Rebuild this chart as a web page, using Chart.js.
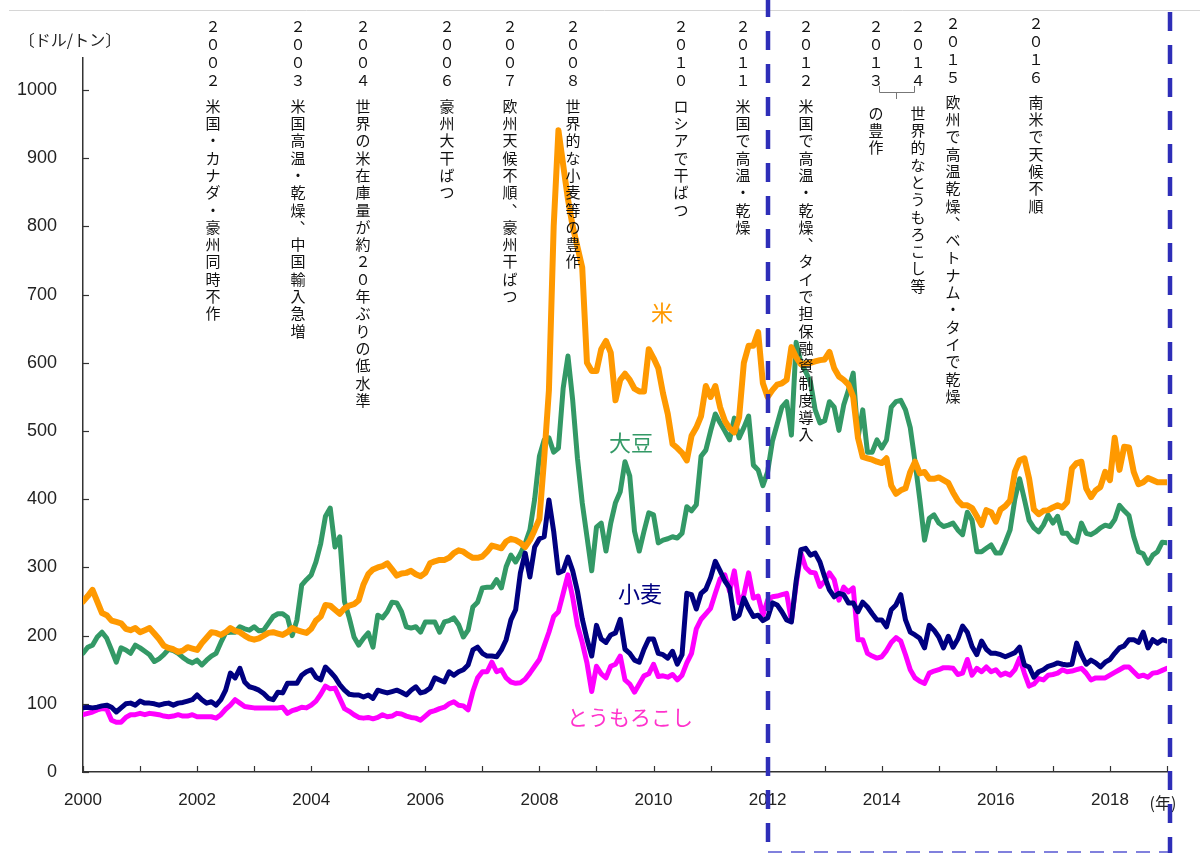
<!DOCTYPE html>
<html>
<head>
<meta charset="utf-8">
<script src="https://cdn.jsdelivr.net/npm/chart.js@4.4.1/dist/chart.umd.min.js"></script>
<style>
  html, body { margin: 0; padding: 0; background: #fff; }
  #wrap { width: 1200px; height: 853px; position: relative; }
</style>
</head>
<body>
<div id="wrap"><canvas id="priceChart"></canvas></div>
<script>
// 月次価格（ドル/トン）2000年1月〜2019年1月
var firstYear = 2000;
var lastYear = 2019;

var rice = [
  250, 258, 267, 250, 233, 230, 222, 220, 218, 210, 208, 211, // 2000
  205, 208, 211, 203, 195, 185, 182, 180, 176, 178, 183, 181, // 2001
  179, 189, 197, 205, 204, 201, 205, 211, 207, 205, 200, 196, // 2002
  194, 196, 200, 204, 205, 203, 201, 205, 211, 208, 206, 204, // 2003
  210, 222, 228, 245, 244, 238, 232, 240, 244, 246, 252, 275, // 2004
  290, 297, 300, 302, 306, 297, 288, 291, 292, 295, 290, 287, // 2005
  292, 306, 309, 311, 311, 314, 321, 325, 323, 318, 314, 314, // 2006
  316, 323, 332, 330, 328, 338, 342, 340, 336, 330, 340, 355, // 2007
  371, 460, 560, 800, 941, 890, 840, 800, 770, 740, 600, 588, // 2008
  588, 620, 632, 615, 545, 575, 584, 575, 562, 558, 558, 620, // 2009
  607, 592, 555, 525, 481, 475, 468, 457, 493, 505, 522, 566, // 2010
  550, 566, 535, 515, 504, 498, 520, 600, 625, 625, 645, 570, // 2011
  550, 560, 568, 570, 575, 623, 608, 598, 599, 600, 602, 604, // 2012
  605, 616, 592, 580, 575, 568, 550, 490, 462, 460, 458, 455, // 2013
  453, 460, 420, 408, 413, 416, 440, 455, 438, 440, 430, 430, // 2014
  432, 428, 424, 410, 398, 391, 391, 387, 375, 362, 384, 381, // 2015
  367, 385, 390, 398, 440, 457, 460, 430, 385, 378, 383, 384, // 2016
  388, 391, 388, 396, 445, 453, 455, 416, 403, 413, 418, 440, // 2017
  428, 490, 443, 477, 476, 440, 422, 425, 431, 428, 425, 425, // 2018
  425                                                         // 2019
];

var soybean = [
  174, 183, 186, 198, 205, 196, 179, 161, 182, 179, 174, 186,
  182, 177, 172, 162, 166, 172, 180, 178, 174, 168, 163, 160,
  164, 157, 164, 170, 174, 190, 204, 205, 205, 213, 210, 208,
  213, 207, 208, 218, 228, 232, 232, 227, 200, 223, 274, 282,
  289, 308, 335, 375, 387, 330, 345, 250, 226, 198, 186, 196,
  204, 183, 230, 226, 235, 249, 248, 235, 213, 211, 213, 205,
  220, 220, 220, 205, 220, 222, 226, 216, 198, 208, 242, 249,
  270, 271, 271, 282, 270, 301, 318, 308, 320, 335, 355, 400,
  463, 487, 490, 469, 475, 563, 610, 545, 460, 395, 345, 295,
  359, 365, 324, 365, 395, 411, 455, 434, 353, 324, 353, 380,
  377, 336, 340, 342, 345, 343, 350, 389, 383, 392, 463, 472,
  500, 525, 512, 500, 487, 519, 490, 505, 522, 450, 443, 420,
  440, 485, 510, 535, 543, 494, 630, 600, 587, 572, 531, 512,
  515, 543, 535, 501, 538, 560, 585, 490, 531, 469, 469, 487,
  475, 487, 535, 543, 545, 531, 505, 455, 400, 340, 372, 377,
  365, 360, 362, 365, 355, 348, 381, 369, 323, 323, 328, 333,
  321, 321, 337, 355, 400, 430, 400, 369, 358, 352, 362, 377,
  365, 375, 350, 350, 340, 337, 365, 350, 348, 352, 358, 362,
  360, 370, 391, 383, 376, 345, 323, 320, 306, 318, 323, 337,
  336
];

var wheat = [
  94, 95, 94, 95, 97, 98, 95, 88, 94, 100, 101, 98,
  104, 101, 101, 100, 98, 100, 101, 98, 101, 102, 104, 106,
  113, 106, 101, 103, 98, 106, 120, 145, 138, 152, 132, 125,
  123, 120, 115, 108, 106, 117, 116, 130, 130, 130, 142, 147,
  150, 139, 135, 154, 147, 139, 128, 120, 114, 113, 113, 110,
  113, 108, 120, 118, 116, 118, 120, 117, 113, 120, 125, 116,
  118, 123, 138, 135, 132, 147, 142, 147, 150, 157, 179, 183,
  174, 170, 170, 169, 179, 194, 223, 238, 292, 321, 286, 330,
  342, 345, 399, 353, 292, 295, 315, 295, 265, 225, 195, 170,
  215, 195, 190, 201, 204, 224, 180, 174, 164, 161, 180, 195,
  195, 174, 172, 167, 177, 158, 172, 262, 260, 239, 262, 268,
  285, 309, 295, 280, 270, 225, 230, 255, 240, 228, 230, 222,
  226, 248, 245, 235, 223, 220, 280, 326, 328, 318, 321, 308,
  286, 267, 257, 262, 260, 248, 248, 235, 249, 242, 232, 223,
  223, 213, 238, 245, 260, 223, 205, 201, 196, 182, 215, 208,
  198, 182, 199, 183, 195, 214, 205, 184, 172, 192, 180, 174,
  174, 172, 169, 172, 175, 183, 157, 154, 139, 147, 150, 155,
  157, 160, 158, 157, 158, 189, 172, 158, 164, 160, 154, 161,
  165, 174, 182, 185, 194, 194, 190, 205, 182, 194, 189, 194,
  192
];

var corn = [
  84, 86, 88, 91, 93, 92, 76, 73, 73, 80, 84, 84,
  86, 84, 86, 85, 84, 82, 81, 82, 84, 82, 82, 84,
  81, 81, 81, 81, 79, 84, 92, 98, 106, 101, 96, 95,
  94, 94, 94, 94, 94, 94, 95, 86, 90, 92, 95, 94,
  98, 104, 114, 126, 122, 123, 108, 93, 89, 84, 80, 79,
  80, 78, 80, 84, 81, 82, 86, 85, 82, 80, 79, 76,
  82, 88, 90, 93, 95, 100, 103, 98, 97, 91, 118, 138,
  147, 147, 161, 147, 150, 138, 132, 130, 131, 136, 145, 155,
  165, 185, 205, 228, 235, 262, 289, 256, 215, 190, 160, 118,
  155, 144, 138, 155, 158, 170, 135, 129, 117, 129, 141, 144,
  158, 140, 141, 139, 143, 135, 142, 160, 174, 210, 224, 232,
  240, 262, 283, 289, 265, 295, 248, 260, 292, 255, 258, 230,
  252, 257, 258, 260, 262, 222, 275, 321, 300, 293, 292, 272,
  280, 292, 282, 252, 271, 264, 270, 194, 194, 174, 170, 167,
  169, 178, 190, 197, 192, 172, 150, 138, 133, 130, 145, 148,
  150, 153, 153, 152, 143, 145, 165, 142, 152, 147, 154, 147,
  150, 142, 145, 142, 150, 167, 145, 126, 129, 137, 135, 142,
  143, 145, 150, 147, 148, 150, 152, 145, 135, 138, 138, 138,
  142, 146, 150, 154, 154, 147, 140, 142, 139, 145, 146, 149,
  152
];

// 出来事（縦書き注記）
var eventYears = ['２００２', '２００３', '２００４', '２００６', '２００７', '２００８', '２０１０', '２０１１', '２０１２', '２０１３', '２０１４', '２０１５', '２０１６'];
var eventTexts = [
  '米国・カナダ・豪州同時不作',
  '米国高温・乾燥︑中国輸入急増',
  '世界の米在庫量が約２０年ぶりの低水準',
  '豪州大干ばつ',
  '欧州天候不順︑豪州干ばつ',
  '世界的な小麦等の豊作',
  'ロシアで干ばつ',
  '米国で高温・乾燥',
  '米国で高温・乾燥︑タイで担保融資制度導入',
  'の豊作',
  '世界的なとうもろこし等',
  '欧州で高温乾燥︑ベトナム・タイで乾燥',
  '南米で天候不順'
];

var JP = '"Noto Sans CJK JP", sans-serif';

function toPoints(arr) {
  return arr.map(function (v, i) { return { x: i, y: v }; });
}

// 注記・枠線など
var overlayPlugin = {
  id: 'overlay',
  afterDraw: function (chart) {
    var ctx = chart.ctx;
    var xs = chart.scales.x;
    var ys = chart.scales.y;
    ctx.save();

    // 上の細い罫線
    ctx.strokeStyle = '#d6d6d6';
    ctx.lineWidth = 1;
    ctx.beginPath(); ctx.moveTo(9, 10.5); ctx.lineTo(1200, 10.5); ctx.stroke();

    // 内向きの目盛り
    ctx.strokeStyle = '#333';
    ctx.lineWidth = 1.2;
    ys.ticks.forEach(function (t) {
      var p = Math.round(ys.getPixelForValue(t.value)) + 0.5;
      ctx.beginPath(); ctx.moveTo(xs.left, p); ctx.lineTo(xs.left + 6, p); ctx.stroke();
    });
    xs.ticks.forEach(function (t) {
      var p = Math.round(xs.getPixelForValue(t.value)) + 0.5;
      ctx.beginPath(); ctx.moveTo(p, ys.bottom); ctx.lineTo(p, ys.bottom - 6); ctx.stroke();
    });

    // 単位
    ctx.fillStyle = '#222';
    ctx.textAlign = 'center';
    ctx.textBaseline = 'middle';
    ctx.font = '16px ' + JP;
    ctx.fillText('〔ドル/トン〕', 70, 40);
    ctx.fillText('(年)', 1163, 803);

    // 縦書き注記
    var cols = [213, 298, 363, 447, 510, 573, 681, 743, 806, 876, 918, 953, 1036];
    ctx.font = '15px ' + JP;
    ctx.fillStyle = '#111';
    for (var i = 0; i < cols.length; i++) {
      var yTop = i >= 11 ? 23 : 26;
      var tTop = i >= 11 ? 102 : (i === 9 || i === 10 ? 113 : 106);
      var yr = Array.from(eventYears[i]);
      for (var k = 0; k < yr.length; k++) ctx.fillText(yr[k], cols[i], yTop + k * 18);
      var chars = Array.from(eventTexts[i]);
      for (var j = 0; j < chars.length; j++) ctx.fillText(chars[j], cols[i], tTop + j * 17.3);
    }
    // 2013〜2014 の括弧
    ctx.strokeStyle = '#777';
    ctx.lineWidth = 1;
    ctx.beginPath();
    ctx.moveTo(879.5, 86); ctx.lineTo(879.5, 92.5); ctx.lineTo(914.5, 92.5); ctx.lineTo(914.5, 86);
    ctx.moveTo(896.5, 92.5); ctx.lineTo(896.5, 99);
    ctx.stroke();

    // 系列名
    ctx.font = '22px ' + JP;
    ctx.fillStyle = '#ff9900'; ctx.fillText('米', 662, 313);
    ctx.fillStyle = '#339966'; ctx.fillText('大豆', 631, 443);
    ctx.fillStyle = '#000080'; ctx.fillText('小麦', 640, 594);
    ctx.font = '21px ' + JP;
    ctx.fillStyle = '#ff33cc'; ctx.fillText('とうもろこし', 630, 717);

    // 破線の枠
    var xl = Math.round(xs.getPixelForValue(144));
    var xr = Math.round(xs.getPixelForValue(228)) + 3;
    ctx.strokeStyle = '#8080dd';
    ctx.lineWidth = 2;
    ctx.setLineDash([14, 9]);
    ctx.beginPath(); ctx.moveTo(xl, 852); ctx.lineTo(xr, 852); ctx.stroke();
    ctx.strokeStyle = '#2e2eb8';
    ctx.lineWidth = 4.5;
    ctx.setLineDash([19, 14]);
    ctx.lineDashOffset = 2;
    ctx.beginPath(); ctx.moveTo(xl, 0); ctx.lineTo(xl, 853); ctx.stroke();
    ctx.lineDashOffset = -12;
    ctx.beginPath(); ctx.moveTo(xr, 0); ctx.lineTo(xr, 853); ctx.stroke();

    ctx.restore();
  }
};

document.addEventListener('DOMContentLoaded', function () {
  var nMonths = (lastYear - firstYear) * 12;
  var lineStyle = { pointRadius: 0, tension: 0, borderJoinStyle: 'round', borderCapStyle: 'round', fill: false };

  var ctx = document.getElementById('priceChart').getContext('2d');
  new Chart(ctx, {
    type: 'line',
    data: {
      datasets: [
        Object.assign({ label: '米', data: toPoints(rice), borderColor: '#ff9900', borderWidth: 6 }, lineStyle),
        Object.assign({ label: '小麦', data: toPoints(wheat), borderColor: '#000080', borderWidth: 5 }, lineStyle),
        Object.assign({ label: 'とうもろこし', data: toPoints(corn), borderColor: '#ff00ff', borderWidth: 5 }, lineStyle),
        Object.assign({ label: '大豆', data: toPoints(soybean), borderColor: '#339966', borderWidth: 5 }, lineStyle)
      ]
    },
    options: {
      responsive: true,
      maintainAspectRatio: false,
      animation: false,
      layout: { padding: { top: 58, right: 33, left: 0, bottom: 0 } },
      plugins: {
        legend: { display: false },
        tooltip: { enabled: false }
      },
      scales: {
        x: {
          type: 'linear',
          min: 0,
          max: nMonths,
          afterFit: function (s) { s.height = 81; },
          grid: { display: false, drawTicks: false },
          border: { display: true, color: '#333', width: 1.5 },
          ticks: {
            stepSize: 12,
            autoSkip: false,
            maxRotation: 0,
            padding: 18,
            color: '#222',
            font: { family: '"Liberation Sans", Arial, sans-serif', size: 17 },
            callback: function (v) { return v % 24 === 0 ? String(firstYear + v / 12) : ''; }
          }
        },
        y: {
          min: 0,
          max: 1047,
          afterFit: function (s) { s.width = 83; },
          afterBuildTicks: function (s) { s.ticks = s.ticks.filter(function (t) { return t.value % 100 === 0; }); },
          grid: { display: false, drawTicks: false },
          border: { display: true, color: '#333', width: 1.5 },
          ticks: {
            stepSize: 100,
            padding: 26,
            color: '#222',
            font: { family: '"Liberation Sans", Arial, sans-serif', size: 18 },
            callback: function (v) { return String(v); }
          }
        }
      }
    },
    plugins: [overlayPlugin]
  });
});
</script>
</body>
</html>
